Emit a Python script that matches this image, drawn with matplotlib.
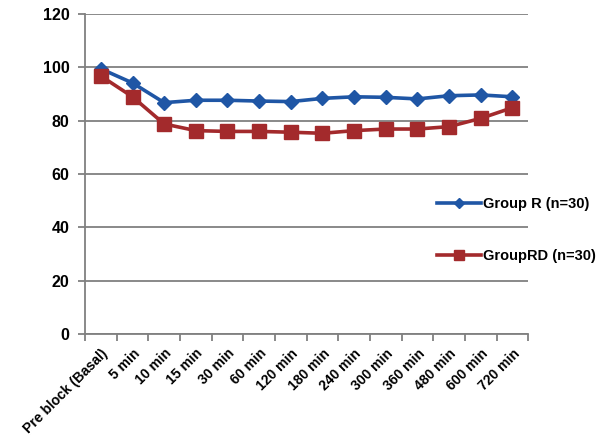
import matplotlib.pyplot as plt
from matplotlib.ticker import FixedLocator

# Data
timePoints = ['Pre block (Basal)', '5 min', '10 min', '15 min', '30 min', '60 min',
              '120 min', '180 min', '240 min', '300 min', '360 min', '480 min',
              '600 min', '720 min']
groupR = [99.5, 94.2, 86.8, 87.7, 87.7, 87.4, 87.2, 88.4, 89.0, 88.8, 88.2, 89.4, 89.7, 89.0]
groupRD = [96.8, 89.0, 78.8, 76.3, 76.0, 76.0, 75.7, 75.3, 76.3, 76.9, 76.9, 77.8, 80.9, 84.9]
yTicks = [0, 20, 40, 60, 80, 100, 120]

plt.rcParams['font.family'] = ['Liberation Sans', 'DejaVu Sans']

fig = plt.figure(figsize=(6.03, 4.44), dpi=100)
ax = fig.add_axes([0.141, 0.248, 0.735, 0.72])

x = list(range(len(timePoints)))
lineR, = ax.plot(x, groupR, color='#1f56a5', lw=2.6, marker='D', markersize=7,
                 label='Group R (n=30)', zorder=3)
lineRD, = ax.plot(x, groupRD, color='#a32a2c', lw=2.6, marker='s', markersize=9.5,
                  label='GroupRD (n=30)', zorder=3)

ax.set_xlim(-0.5, len(timePoints) - 0.5)
ax.set_ylim(0, 120)
ax.set_yticks(yTicks)
ax.set_yticklabels([str(v) for v in yTicks], fontweight='bold', fontsize=11.5)
ax.yaxis.grid(True, color='#808080', lw=1.3)
ax.set_axisbelow(True)

ax.set_xticks(x)
ax.set_xticklabels(timePoints, rotation=45, ha='right', rotation_mode='anchor',
                   fontweight='bold', fontsize=10)
ax.xaxis.set_minor_locator(FixedLocator([i - 0.5 for i in range(len(timePoints) + 1)]))
ax.tick_params(axis='x', which='major', length=0, pad=9)
ax.tick_params(axis='x', which='minor', length=5, width=1.3, color='#808080')
ax.tick_params(axis='y', length=5, width=1.3, color='#808080', pad=6)

for side in ['top', 'right']:
    ax.spines[side].set_visible(False)
for side in ['left', 'bottom']:
    ax.spines[side].set_color('#808080')
    ax.spines[side].set_linewidth(1.3)

leg = ax.legend(loc='upper left', bbox_to_anchor=(0.765, 0.47), frameon=False,
                handlelength=3.0, handletextpad=0.15, labelspacing=2.6,
                markerscale=0.75, prop={'size': 10.5, 'weight': 'bold'})

fig.savefig('out.png', dpi=100)
